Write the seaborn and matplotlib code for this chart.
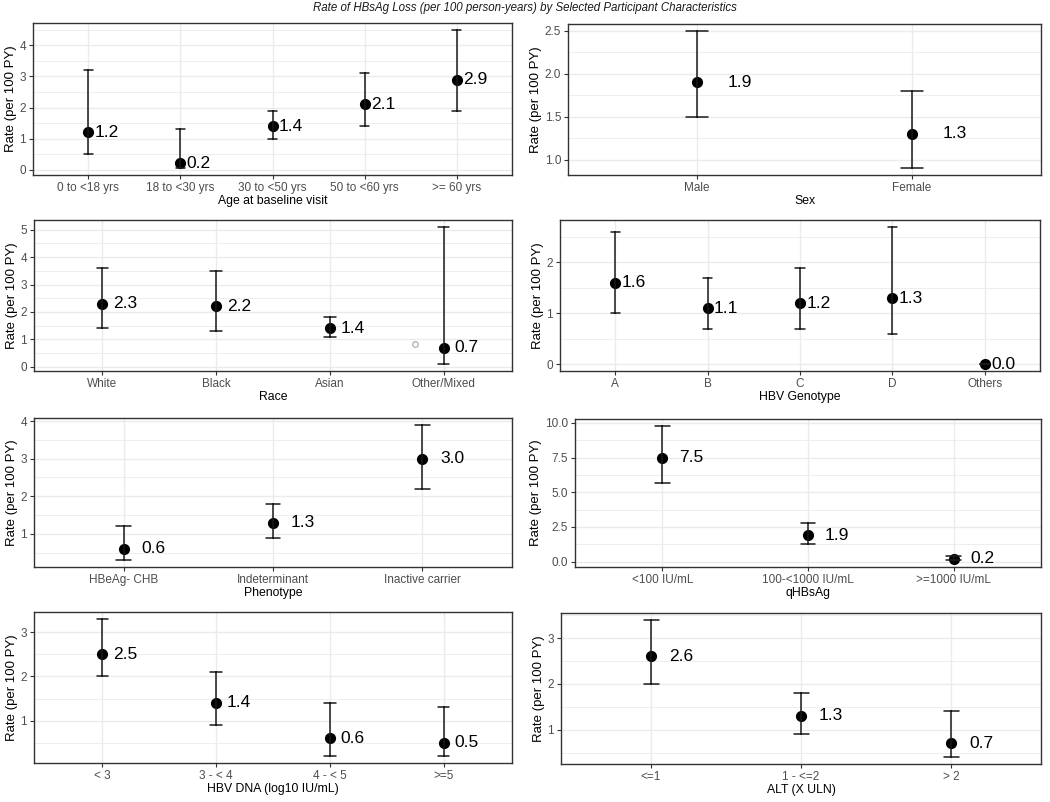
import numpy as np
import pandas as pd
import matplotlib
matplotlib.use('Agg')
import matplotlib.pyplot as plt
from matplotlib.ticker import MultipleLocator, FormatStrFormatter
import seaborn as sns

# Rates of HBsAg loss (per 100 PY) with CI bounds
age_cats = ['0 to <18 yrs', '18 to <30 yrs', '30 to <50 yrs', '50 to <60 yrs', '>= 60 yrs']
age_rate = [1.2, 0.2, 1.4, 2.1, 2.9]
age_low = [0.5, 0.05, 1.0, 1.4, 1.9]
age_high = [3.2, 1.3, 1.9, 3.1, 4.5]

sex_cats = ['Male', 'Female']
sex_rate = [1.9, 1.3]
sex_low = [1.5, 0.9]
sex_high = [2.5, 1.8]

race_cats = ['White', 'Black', 'Asian', 'Other/Mixed']
race_rate = [2.3, 2.2, 1.4, 0.7]
race_low = [1.4, 1.3, 1.1, 0.1]
race_high = [3.6, 3.5, 1.8, 5.1]
# stray hollow point seen in the race panel
race_extra_x = [2.75]
race_extra_y = [0.83]

geno_cats = ['A', 'B', 'C', 'D', 'Others']
geno_rate = [1.6, 1.1, 1.2, 1.3, 0.0]
geno_low = [1.0, 0.7, 0.7, 0.6, 0.0]
geno_high = [2.6, 1.7, 1.9, 2.7, 0.0]

pheno_cats = ['HBeAg- CHB', 'Indeterminant', 'Inactive carrier']
pheno_rate = [0.6, 1.3, 3.0]
pheno_low = [0.3, 0.9, 2.2]
pheno_high = [1.2, 1.8, 3.9]

qhbs_cats = ['<100 IU/mL', '100-<1000 IU/mL', '>=1000 IU/mL']
qhbs_rate = [7.5, 1.9, 0.2]
qhbs_low = [5.7, 1.3, 0.1]
qhbs_high = [9.8, 2.8, 0.4]

dna_cats = ['< 3', '3 - < 4', '4 - < 5', '>=5']
dna_rate = [2.5, 1.4, 0.6, 0.5]
dna_low = [2.0, 0.9, 0.2, 0.2]
dna_high = [3.3, 2.1, 1.4, 1.3]

alt_cats = ['<=1', '1 - <=2', '> 2']
alt_rate = [2.6, 1.3, 0.7]
alt_low = [2.0, 0.9, 0.4]
alt_high = [3.4, 1.8, 1.4]

W, H = 1050, 802

sns.set_theme(style='white')
plt.rcParams['font.family'] = ['Liberation Sans', 'DejaVu Sans']

GRID = '#EBEBEB'
BORDER = '#333333'


def draw_panel(ax, cats, rate, low, high, xlabel, step, fmt):
    df = pd.DataFrame({
        'cat': np.repeat(cats, 3),
        'val': np.column_stack([low, rate, high]).ravel(),
    })
    sns.pointplot(data=df, x='cat', y='val', order=cats, estimator='median',
                  errorbar=lambda v: (v.min(), v.max()), capsize=0.1,
                  linestyle='none', color='black', markersize=6,
                  err_kws={'linewidth': 1.1, 'color': '#1a1a1a'}, ax=ax, zorder=3)
    for i, r in enumerate(rate):
        ax.text(i + 0.2, r, f'{r:.1f}', ha='center', va='center', fontsize=12.5,
                color='black', zorder=4)

    lo, hi = min(low), max(high)
    pad = (hi - lo) * 0.05
    ax.set_ylim(lo - pad, hi + pad)
    ax.set_xlim(-0.6, len(cats) - 0.4)

    ax.yaxis.set_major_locator(MultipleLocator(step))
    ax.yaxis.set_minor_locator(MultipleLocator(step / 2))
    ax.yaxis.set_major_formatter(FormatStrFormatter(fmt))
    ax.grid(True, which='major', color=GRID, linewidth=1.0, zorder=0)
    ax.grid(True, which='minor', axis='y', color=GRID, linewidth=0.6, zorder=0)
    ax.set_axisbelow(True)

    for sp in ax.spines.values():
        sp.set_visible(True)
        sp.set_color(BORDER)
        sp.set_linewidth(1.0)
    ax.tick_params(which='major', direction='out', length=3, width=0.8, color=BORDER,
                   labelcolor='#4D4D4D', labelsize=8.5, pad=2, bottom=True, left=True)
    ax.tick_params(which='minor', length=0, left=False, bottom=False)
    ax.set_xlabel(xlabel, fontsize=8.8, color='black', labelpad=1)
    ax.set_ylabel('Rate (per 100 PY)', fontsize=9.5, color='black', labelpad=2)


def add_axes_px(fig, x0, y0, x1, y1):
    return fig.add_axes([x0 / W, 1 - y1 / H, (x1 - x0) / W, (y1 - y0) / H])


fig = plt.figure(figsize=(W / 100, H / 100), dpi=100)
fig.patch.set_facecolor('white')

panels = [
    (age_cats, age_rate, age_low, age_high, 'Age at baseline visit', 1, '%.0f'),
    (sex_cats, sex_rate, sex_low, sex_high, 'Sex', 0.5, '%.1f'),
    (race_cats, race_rate, race_low, race_high, 'Race', 1, '%.0f'),
    (geno_cats, geno_rate, geno_low, geno_high, 'HBV Genotype', 1, '%.0f'),
    (pheno_cats, pheno_rate, pheno_low, pheno_high, 'Phenotype', 1, '%.0f'),
    (qhbs_cats, qhbs_rate, qhbs_low, qhbs_high, 'qHBsAg', 2.5, '%.1f'),
    (dna_cats, dna_rate, dna_low, dna_high, 'HBV DNA (log10 IU/mL)', 1, '%.0f'),
    (alt_cats, alt_rate, alt_low, alt_high, 'ALT (X ULN)', 1, '%.0f'),
]

# panel boxes in pixels (left, top, right, bottom)
boxes = [
    (33, 23, 512, 175), (568, 24, 1041, 175),
    (34, 220, 512, 371), (560, 220, 1040, 371),
    (34, 418, 512, 567), (575, 419, 1041, 567),
    (34, 612, 512, 763), (561, 613, 1041, 764),
]

axes = []
for spec, box in zip(panels, boxes):
    ax = add_axes_px(fig, *box)
    draw_panel(ax, *spec)
    axes.append(ax)

axes[2].plot(race_extra_x, race_extra_y, 'o', mfc='none', mec='#B4B4C4',
             mew=1.0, ms=4, zorder=3)

fig.text(0.5, 1 - 8 / H, 'Rate of HBsAg Loss (per 100 person-years) by Selected Participant Characteristics',
         ha='center', va='center', fontsize=8.3, style='italic', color='#1a1a1a')

fig.savefig('out.png', dpi=100, facecolor='white')
